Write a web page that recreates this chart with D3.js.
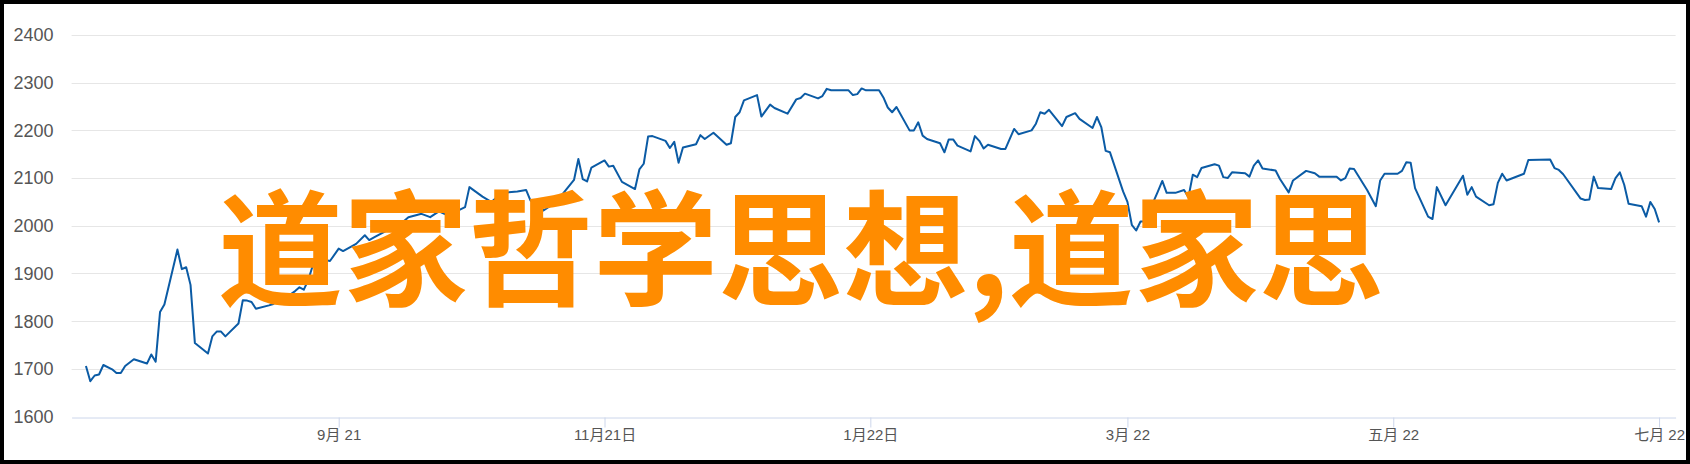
<!DOCTYPE html>
<html>
<head>
<meta charset="utf-8">
<script src="https://cdn.jsdelivr.net/npm/d3@7"></script>
<style>
  body { margin: 0; background: #fff; }
  svg { display: block; }
</style>
</head>
<body>
<script>
const width = 1690;
const height = 464;

const dates = [
  "2021-07-05","2021-07-06","2021-07-07","2021-07-08","2021-07-09","2021-07-11","2021-07-12","2021-07-13","2021-07-14","2021-07-16",
  "2021-07-19","2021-07-20","2021-07-21","2021-07-22","2021-07-23","2021-07-26","2021-07-27","2021-07-28","2021-07-29","2021-07-30",
  "2021-08-02","2021-08-03","2021-08-04","2021-08-05","2021-08-06","2021-08-09","2021-08-10","2021-08-11","2021-08-12","2021-08-13",
  "2021-08-16","2021-08-17","2021-08-18","2021-08-19","2021-08-20","2021-08-22","2021-08-23","2021-08-24","2021-08-25","2021-08-26",
  "2021-08-28","2021-08-30","2021-09-01","2021-09-02","2021-09-05","2021-09-07","2021-09-08","2021-09-09","2021-09-12","2021-09-14",
  "2021-09-16","2021-09-17","2021-09-20","2021-09-22","2021-09-24","2021-09-26","2021-09-28","2021-09-30","2021-10-01","2021-10-04",
  "2021-10-06","2021-10-08","2021-10-10","2021-10-12","2021-10-14","2021-10-15","2021-10-18","2021-10-20","2021-10-22","2021-10-25",
  "2021-10-26","2021-10-27","2021-10-28","2021-10-29","2021-11-01","2021-11-02","2021-11-03","2021-11-05","2021-11-08","2021-11-09",
  "2021-11-10","2021-11-11","2021-11-12","2021-11-15","2021-11-16","2021-11-17","2021-11-18","2021-11-19","2021-11-22","2021-11-23",
  "2021-11-24","2021-11-26","2021-11-29","2021-11-30","2021-12-01","2021-12-02","2021-12-03","2021-12-06","2021-12-07","2021-12-09",
  "2021-12-10","2021-12-13","2021-12-15","2021-12-16","2021-12-17","2021-12-20","2021-12-21","2021-12-22","2021-12-23","2021-12-27",
  "2021-12-28","2021-12-29","2021-12-30","2021-12-31","2022-01-03","2022-01-04","2022-01-05","2022-01-06","2022-01-07","2022-01-10",
  "2022-01-11","2022-01-12","2022-01-13","2022-01-14","2022-01-17","2022-01-18","2022-01-19","2022-01-20","2022-01-21","2022-01-24",
  "2022-01-25","2022-01-26","2022-01-27","2022-01-28","2022-01-31","2022-02-01","2022-02-03","2022-02-04","2022-02-07","2022-02-08",
  "2022-02-09","2022-02-10","2022-02-11","2022-02-14","2022-02-15","2022-02-17","2022-02-18","2022-02-21","2022-02-22","2022-02-23",
  "2022-02-24","2022-02-25","2022-02-28","2022-03-01","2022-03-02","2022-03-03","2022-03-04","2022-03-05","2022-03-08","2022-03-09",
  "2022-03-10","2022-03-12","2022-03-14","2022-03-15","2022-03-16","2022-03-17","2022-03-18","2022-03-21","2022-03-22","2022-03-23",
  "2022-03-24","2022-03-25","2022-03-28","2022-03-29","2022-03-30","2022-03-31","2022-04-01","2022-04-04","2022-04-05","2022-04-07",
  "2022-04-08","2022-04-11","2022-04-13","2022-04-14","2022-04-18","2022-04-19","2022-04-20","2022-04-21","2022-04-22","2022-04-25",
  "2022-04-27","2022-04-28","2022-04-29","2022-05-02","2022-05-03","2022-05-04","2022-05-05","2022-05-06","2022-05-09","2022-05-10",
  "2022-05-11","2022-05-13","2022-05-17","2022-05-18","2022-05-19","2022-05-20","2022-05-23","2022-05-24","2022-05-25","2022-05-26",
  "2022-05-27","2022-05-31","2022-06-01","2022-06-06","2022-06-07","2022-06-08","2022-06-09","2022-06-13","2022-06-14","2022-06-15",
  "2022-06-16","2022-06-17","2022-06-20","2022-06-21","2022-06-22","2022-06-23","2022-06-24","2022-06-27","2022-06-28","2022-06-29",
  "2022-06-30","2022-07-01"
];

const values = [
  1706,1674,1686,1688,1708,1699,1691,1691,1706,1720,
  1711,1730,1715,1819,1835,1950,1909,1913,1876,1754,
  1732,1768,1778,1778,1768,1795,1844,1843,1840,1826,
  1833,1836,1844,1839,1850,1863,1871,1866,1886,1915,
  1930,1926,1952,1947,1962,1980,1970,1975,1990,2005,
  2010,2018,2025,2018,2030,2022,2030,2039,2081,2061,
  2050,2065,2070,2072,2075,2053,2032,2044,2062,2096,
  2140,2098,2093,2122,2137,2124,2126,2092,2077,2118,
  2130,2187,2188,2178,2163,2176,2132,2164,2171,2190,
  2182,2195,2170,2173,2228,2238,2263,2274,2229,2254,
  2247,2235,2265,2268,2277,2267,2272,2287,2284,2284,
  2274,2276,2288,2284,2284,2269,2248,2238,2249,2200,
  2200,2217,2189,2182,2173,2154,2181,2181,2168,2156,
  2188,2178,2162,2170,2161,2161,2203,2192,2200,2214,
  2238,2235,2243,2209,2228,2236,2224,2205,2228,2207,
  2157,2154,2072,2050,2002,1990,2009,2009,2072,2094,
  2069,2069,2075,2060,2107,2102,2121,2129,2126,2102,
  2100,2112,2110,2103,2126,2137,2120,2116,2098,2070,
  2095,2115,2110,2103,2103,2095,2100,2120,2119,2075,
  2041,2095,2109,2109,2115,2133,2132,2079,2019,2014,
  2081,2043,2105,2065,2081,2061,2043,2045,2090,2109,
  2095,2109,2138,2139,2121,2117,2108,2057,2054,2055,
  2103,2079,2077,2100,2112,2086,2046,2041,2019,2050,
  2035,2007
];

const yTicks = [1600, 1700, 1800, 1900, 2000, 2100, 2200, 2300, 2400];
const xTickDates = ["2021-09-01", "2021-11-01", "2022-01-01", "2022-03-01", "2022-05-01", "2022-07-01"];
const xTickLabels = ["9月 21", "11月21日", "1月22日", "3月 22", "五月 22", "七月 22"];
const overlayParts = ["道家哲学思想", ",", "道家思"];

const parse = d3.utcParse("%Y-%m-%d");
const data = dates.map((d, i) => ({ date: parse(d), value: values[i] }));

const svg = d3.select('body').append('svg').attr('width', width).attr('height', height);

svg.append('rect').attr('width', width).attr('height', height).attr('fill', '#fff');

const x = d3.scaleUtc()
  .domain([d3.isoParse("2021-07-01T17:00:00Z"), d3.isoParse("2022-07-04T19:00:00Z")])
  .range([71.6, 1675.6]);
const y = d3.scaleLinear().domain([1600, 2400]).range([416.5, 35]);

// grid
svg.append('g')
  .selectAll('line')
  .data(yTicks.slice(1))
  .enter()
  .append('line')
  .attr('x1', x.range()[0])
  .attr('x2', x.range()[1])
  .attr('y1', d => Math.round(y(d)) + 0.5)
  .attr('y2', d => Math.round(y(d)) + 0.5)
  .attr('stroke', '#e6e6e6')
  .attr('stroke-width', 1);

// y labels
svg.append('g')
  .selectAll('text')
  .data(yTicks)
  .enter()
  .append('text')
  .attr('x', 53.5)
  .attr('y', d => y(d) + 6.4)
  .attr('text-anchor', 'end')
  .attr('fill', '#555')
  .style('font-family', '"Liberation Sans", Arial, sans-serif')
  .style('font-size', '18px')
  .text(d => d);

// x axis
const xAxis = d3.axisBottom(x)
  .tickValues(xTickDates.map(parse))
  .tickFormat((d, i) => xTickLabels[i])
  .tickSize(10)
  .tickSizeOuter(0);

const gx = svg.append('g')
  .attr('transform', `translate(0,${Math.round(y(1600)) + 0.5})`)
  .call(xAxis);
gx.select('.domain').attr('stroke', '#ccd6eb');
gx.selectAll('.tick line').attr('stroke', '#ccd6eb');
gx.selectAll('.tick text')
  .attr('y', 11)
  .attr('dy', '0.75em')
  .attr('fill', '#555')
  .style('font-family', '"Liberation Sans", "Noto Sans CJK SC", sans-serif')
  .style('font-size', '15px');

// series
const line = d3.line()
  .x(d => x(d.date))
  .y(d => y(d.value));

svg.append('path')
  .datum(data)
  .attr('d', line)
  .attr('fill', 'none')
  .attr('stroke', '#0b5ba5')
  .attr('stroke-width', 2)
  .attr('stroke-linejoin', 'round');

// overlay title
const title = svg.append('text')
  .attr('x', 218)
  .attr('y', 296)
  .attr('fill', '#ff8c00')
  .style('font-family', '"Noto Sans CJK SC", sans-serif')
  .style('font-weight', 'bold')
  .style('font-size', '125px');

title.selectAll('tspan')
  .data(overlayParts)
  .enter()
  .append('tspan')
  .text(d => d);

// frame
svg.append('rect')
  .attr('x', 2)
  .attr('y', 2)
  .attr('width', width - 4)
  .attr('height', height - 4)
  .attr('fill', 'none')
  .attr('stroke', '#000')
  .attr('stroke-width', 4);
</script>
</body>
</html>
